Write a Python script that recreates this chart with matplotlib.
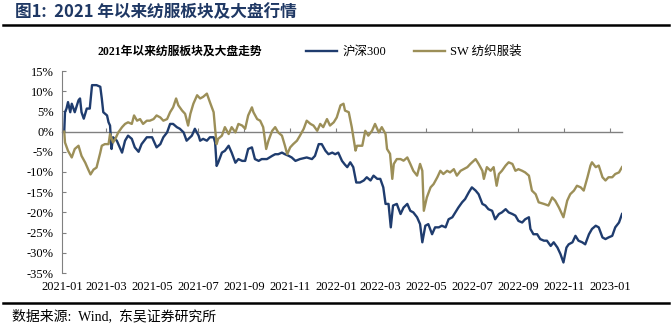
import matplotlib
matplotlib.use('Agg')
import matplotlib.pyplot as plt
import matplotlib.dates as mdates
from matplotlib.ticker import PercentFormatter
import pandas as pd

plt.rcParams['font.family'] = ['Liberation Serif', 'Noto Sans CJK SC']
plt.rcParams['axes.unicode_minus'] = False

# days since 2021-01-01, cumulative return in %
hs300_days = [3, 4, 6, 8, 11, 13, 17, 22, 24, 26, 29, 33, 37, 40, 46, 51, 53, 55, 60, 62,
              64, 66, 68, 73, 80, 84, 88, 93, 97, 102, 106, 113, 120, 126, 131, 135, 140, 144, 148, 153,
              157, 162, 166, 173, 177, 182, 184, 188, 193, 197, 202, 204, 206, 208, 213, 217, 222, 226, 231, 235,
              240, 244, 248, 253, 257, 262, 266, 273, 280, 284, 288, 293, 297, 302, 306, 311, 317, 326, 333, 337,
              342, 346, 351, 355, 360, 364, 368, 373, 377, 380, 384, 388, 392, 397, 402, 406, 411, 415, 420, 424,
              428, 431, 435, 438, 441, 446, 451, 455, 460, 464, 468, 473, 477, 480, 484, 488, 493, 497, 502, 506,
              511, 515, 520, 524, 528, 533, 537, 542, 546, 551, 555, 560, 564, 568, 573, 577, 582, 586, 591, 595,
              600, 604, 608, 613, 617, 622, 624, 628, 633, 637, 642, 646, 651, 655, 660, 664, 668, 672, 675, 680,
              684, 688, 693, 697, 702, 706, 711, 715, 720, 724, 728, 733, 737, 742, 746]
hs300_pct = [0, 4.8, 5.7, 7.3, 4.8, 6.9, 4.8, 7.75, 8.2, 4.8, 3.2, 5.7, 5.7, 11.5, 11.5, 11.1, 8.2, 4.8, 4.0, 2.3,
             1.5, -4.3, -1.4, -2.25, -5.2, -2.25, -1.0, -1.8, -3.9, -5.0, -3.1, -1.4, -1.4, -3.9, -3.1, -1.4, -0.2, 1.9, 1.9, 1.1,
             0.7, -0.2, -2.25, -1.0, 0.7, -1.0, -2.25, -1.8, -2.25, -1.4, -1.4, -2.7, -8.5, -7.7, -5.2, -4.75, -3.5, -5.2, -7.7, -6.8,
             -7.25, -7.25, -4.3, -3.9, -6.8, -7.25, -6.8, -6.8, -6.0, -5.6, -5.6, -5.2, -5.6, -6.0, -6.4, -7.25, -6.8, -6.4, -6.8, -6.0,
             -3.1, -3.1, -4.75, -5.6, -5.2, -5.6, -5.2, -7.25, -8.2, -8.8, -7.6, -8.8, -12.6, -12.6, -12.1, -11.3, -12.1, -10.9, -11.7, -11.7,
             -13.8, -17.9, -17.9, -23.7, -18.3, -17.9, -20.4, -18.8, -17.9, -19.6, -20.0, -21.2, -22.9, -27.4, -23.3, -22.9, -25.4, -23.7, -23.7, -23.3,
             -23.7, -21.7, -21.2, -20.0, -18.8, -17.5, -16.7, -15.0, -13.8, -14.6, -15.5, -17.9, -18.3, -19.2, -19.6, -21.7, -20.4, -20.0, -19.2, -20.0,
             -20.4, -20.8, -22.1, -22.5, -21.7, -21.2, -24.1, -25.4, -25.4, -26.6, -27.0, -27.0, -28.3, -27.4, -28.7, -30.3, -32.4, -28.7, -27.9, -27.4,
             -25.8, -27.0, -27.4, -27.9, -25.4, -24.1, -23.3, -23.7, -26.2, -26.6, -26.2, -25.8, -23.7, -22.5, -20.4]

sw_days = [3, 4, 8, 13, 17, 22, 26, 31, 35, 38, 42, 46, 51, 53, 57, 62, 64, 68, 71, 75,
           80, 84, 88, 93, 96, 100, 104, 108, 113, 117, 122, 126, 131, 135, 140, 144, 148, 152, 155, 160,
           164, 168, 171, 175, 180, 184, 188, 193, 197, 202, 204, 206, 208, 213, 217, 222, 226, 231, 235, 240,
           244, 248, 253, 255, 260, 264, 268, 272, 275, 280, 284, 288, 293, 297, 300, 304, 308, 313, 317, 322,
           326, 331, 335, 340, 344, 348, 353, 357, 362, 366, 371, 375, 377, 382, 386, 391, 393, 400, 404, 408,
           413, 417, 422, 426, 431, 433, 437, 440, 442, 446, 451, 455, 460, 464, 468, 473, 477, 480, 482, 486,
           491, 495, 500, 504, 508, 513, 517, 522, 526, 531, 535, 540, 544, 551, 555, 560, 562, 566, 571, 575,
           579, 582, 586, 591, 595, 600, 604, 608, 613, 617, 622, 626, 631, 635, 642, 648, 653, 657, 662, 666,
           668, 673, 677, 682, 686, 691, 695, 700, 704, 706, 711, 715, 720, 724, 728, 733, 737, 742, 746]
sw_pct = [0, -2.7, -4.75, -6.4, -4.3, -3.5, -6.0, -7.7, -9.4, -10.6, -9.4, -8.9, -5.2, -3.5, -3.1, -3.1, -0.6, -2.7, -1.8, -0.2,
          1.1, 1.9, 2.3, 1.9, 4.0, 2.7, 3.1, 1.9, 2.7, 2.7, 3.1, 4.0, 3.5, 2.7, 3.1, 4.8, 6.0, 8.2, 6.5, 5.2,
          4.4, 1.5, 4.4, 6.9, 9.0, 8.2, 8.6, 9.4, 7.3, 4.8, 0.6, -3.1, -1.8, -1.0, 1.1, -0.6, 1.1, -0.2, 1.9, 1.5,
          0.7, 4.0, 6.0, 4.8, 3.1, 2.7, 1.1, -4.3, -2.25, 0.2, 1.1, -0.2, -1.0, -3.5, -5.6, -3.9, -3.1, -2.25, -1.0, 0.7,
          2.7, 1.9, 1.5, 0.2, 1.9, 1.1, 3.1, 1.5, 2.3, 3.5, 6.5, 6.9, 5.2, 4.8, 1.1, -4.7, -3.5, -3.5, 0.2, -1.0,
          0.2, 1.9, -0.2, 1.1, -0.6, -4.3, -5.5, -11.7, -8.0, -6.8, -6.8, -7.2, -6.4, -8.0, -9.7, -10.9, -8.0, -9.7, -19.6, -16.3,
          -13.8, -13.0, -11.3, -9.7, -10.5, -9.7, -10.1, -9.3, -10.9, -9.7, -9.3, -8.8, -8.0, -6.8, -8.0, -9.7, -11.7, -8.8, -9.7, -8.8,
          -13.4, -10.5, -9.7, -8.4, -7.6, -8.0, -9.7, -9.3, -9.7, -10.1, -10.9, -14.6, -15.5, -17.5, -17.9, -18.3, -16.3, -17.1, -18.8, -20.4,
          -21.2, -17.1, -15.5, -14.6, -13.4, -13.8, -14.6, -11.3, -8.4, -7.6, -8.8, -8.4, -11.3, -12.1, -11.3, -11.3, -10.5, -10.1, -8.8]

start = pd.Timestamp('2021-01-01')
hs300_dates = start + pd.to_timedelta(hs300_days, unit='D')
sw_dates = start + pd.to_timedelta(sw_days, unit='D')

fig = plt.figure(figsize=(6.72, 3.25), dpi=100)
ax = fig.add_axes([62/672, 1 - 273/325, 560/672, 202/325])

ax.plot(hs300_dates, hs300_pct, color='#1f3c6e', lw=1.7, label='沪深300')
ax.plot(sw_dates, sw_pct, color='#9c8f58', lw=1.7, label='SW 纺织服装')

ax.set_xlim(start, start + pd.Timedelta(days=746))
ax.set_ylim(-35, 15)
ax.set_yticks(range(-35, 16, 5))
ax.yaxis.set_major_formatter(PercentFormatter(decimals=0))
ax.xaxis.set_major_locator(mdates.MonthLocator(bymonth=[1, 3, 5, 7, 9, 11]))
ax.xaxis.set_major_formatter(mdates.DateFormatter('%Y-%m'))
ax.tick_params(axis='x', length=0, labelsize=9, pad=6)
ax.tick_params(axis='y', direction='in', length=3, color='#808080', labelsize=9, pad=6)

for s in ['top', 'right', 'bottom']:
    ax.spines[s].set_visible(False)
ax.spines['left'].set_color('#808080')

# zero line with its own tick marks
sec = ax.secondary_xaxis(0, transform=ax.transData)
sec.xaxis.set_major_locator(mdates.MonthLocator(bymonth=[1, 3, 5, 7, 9, 11]))
sec.tick_params(axis='x', direction='in', length=3, color='#808080', labelbottom=False, labeltop=False)
sec.spines['bottom'].set_color('#808080')
sec.spines['bottom'].set_linewidth(1.0)

fig.text(15/672, 1 - 12/325, '图1:  2021 年以来纺服板块及大盘行情', color='#1f3864', fontsize=12,
         fontweight='bold', family=['Noto Sans CJK SC'], va='center')
fig.add_artist(plt.Line2D([3/672, 669/672], [1 - 25/325, 1 - 25/325], color='black', lw=1.8))
fig.text(98/672, 1 - 52/325, '2021年以来纺服板块及大盘走势', fontsize=8.5, fontweight='bold', va='center')
fig.legend(loc='center left', bbox_to_anchor=(306/672, 1 - 52/325), ncol=2, frameon=False,
           fontsize=9, handlelength=2.5, handletextpad=0.4, columnspacing=2.2, borderpad=0, borderaxespad=0)
fig.add_artist(plt.Line2D([3/672, 669/672], [1 - 303/325, 1 - 303/325], color='black', lw=1.8))
fig.text(12/672, 1 - 316/325, '数据来源:  Wind,  东吴证券研究所', fontsize=10, va='center')

fig.savefig('out.png', dpi=100)
